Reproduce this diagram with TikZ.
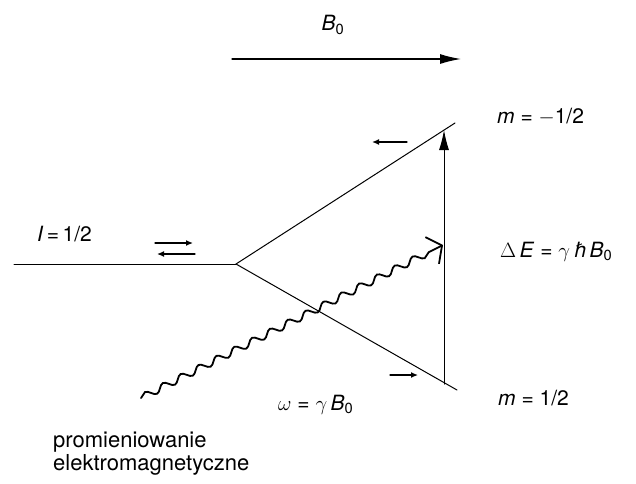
\documentclass[tikz,border=0pt]{standalone}
\usepackage{fontspec}
\setmainfont{TeX Gyre Heros}
\usetikzlibrary{arrows.meta,decorations.pathmorphing}
\begin{document}
\begin{tikzpicture}[x=1pt,y=-1pt,line cap=round,
  lbl/.style={font=\fontsize{21}{25}\selectfont, inner sep=0pt},
  level/.style={line width=1pt},
  smallarrow/.style={line width=1.3pt,-{Latex[length=7pt,width=6pt]}},
  bigarrow/.style={line width=1.3pt,-{Latex[length=21pt,width=10pt]}},
  wave/.style={line width=1.8pt, decorate,
    decoration={snake,amplitude=3.5pt,segment length=20pt,post length=12pt}}]
\useasboundingbox (0,0) rectangle (636,483);
% coordinates
\coordinate (bs) at (232,59);
\coordinate (be) at (461,59);
\coordinate (left) at (14,264);
\coordinate (v) at (236,264);
\coordinate (up) at (455,123);
\coordinate (lo) at (457,390);
\coordinate (vb) at (444,384);
\coordinate (vt) at (444,130);
\coordinate (ws) at (141,398);
\coordinate (we) at (443,245);
\coordinate (a1s) at (155,243); \coordinate (a1e) at (193,243);
\coordinate (a2s) at (195,254); \coordinate (a2e) at (157,254);
\coordinate (a3s) at (407,142); \coordinate (a3e) at (372,142);
\coordinate (a4s) at (390,375); \coordinate (a4e) at (418,375);
% field arrow
\draw[bigarrow] (bs) -- (be);
\node[lbl] (B) at (333,25) {\textit{B}\textsubscript{0}};
% levels
\draw[level] (left) -- (v);
\draw[level] (v) -- (up);
\draw[level] (v) -- (lo);
\draw[line width=1pt,-{Latex[length=20pt,width=10pt]}] (vb) -- (vt);
% spin arrows
\draw[smallarrow] (a1s) -- (a1e);
\draw[smallarrow] (a2s) -- (a2e);
\draw[smallarrow] (a3s) -- (a3e);
\draw[smallarrow] (a4s) -- (a4e);
% photon
\draw[wave,-{Straight Barb[length=11pt,width=30pt,line width=1.8pt]}] (ws) -- (we);
% labels
\node[lbl,anchor=west] (I) at (37,234) {\textit{I}\,=\,1/2};
\node[lbl,anchor=west] (mm) at (497,117) {\textit{m} = $-$1/2};
\node[lbl,anchor=west] (dE) at (500,252) {$\Delta$\,\textit{E} = $\gamma$\,\textit{ħ}\,\textit{B}\textsubscript{0}};
\node[lbl,anchor=west] (mp) at (498,398) {\textit{m} = 1/2};
\node[lbl,anchor=west] (om) at (278,405) {$\omega$ = $\gamma$\,\textit{B}\textsubscript{0}};
\node[lbl,anchor=north west,align=left,font=\fontsize{22}{23}\selectfont] (pr) at (53,432) {promieniowanie\\elektromagnetyczne};
\end{tikzpicture}
\end{document}
